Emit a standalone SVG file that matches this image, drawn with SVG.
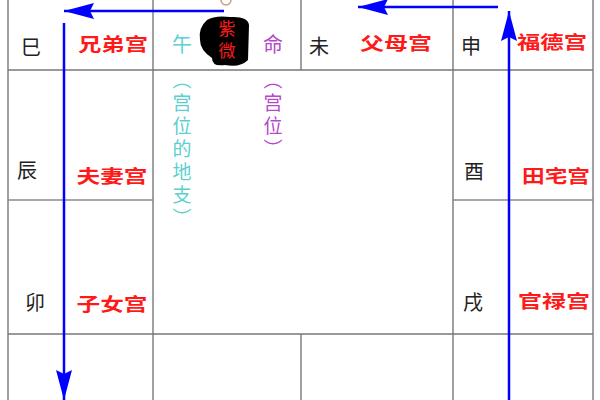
<svg xmlns="http://www.w3.org/2000/svg" width="600" height="400" viewBox="0 0 600 400">
<style>
text{dominant-baseline:central;text-anchor:middle;font-family:"Noto Sans CJK SC","Noto Sans",sans-serif}
.g{stroke:#8a8a8a;stroke-width:1.6;fill:none}
.k{font-size:20px;fill:#222}
.r{font-size:18px;fill:#ff1a1a;font-weight:bold}
.v{writing-mode:vertical-rl;text-anchor:start}
.t{font-size:19px;fill:#5ccfcf}
.p{font-size:19px;fill:#b548c8}
.b{stroke:#0000ff;stroke-width:2.5;fill:none}
</style>
<defs>
<marker id="ah2" viewBox="0 0 30 16" refX="30" refY="8" markerWidth="30" markerHeight="16" markerUnits="userSpaceOnUse" orient="auto">
<path d="M0,0 L30,8 L0,16 L4,8 z" fill="#0000ff"/>
</marker>
</defs>
<rect width="600" height="400" fill="#fff"/>
<g id="grid">
<line class="g" x1="8" y1="0" x2="8" y2="400"/>
<line class="g" x1="593" y1="0" x2="593" y2="400"/>
<line class="g" x1="153" y1="0" x2="153" y2="400"/>
<line class="g" x1="453" y1="0" x2="453" y2="400"/>
<line class="g" x1="301" y1="0" x2="301" y2="70"/>
<line class="g" x1="301" y1="334" x2="301" y2="400"/>
<line class="g" x1="8" y1="70" x2="593" y2="70" style="stroke:#777"/>
<line class="g" x1="8" y1="200" x2="153" y2="200"/>
<line class="g" x1="453" y1="200" x2="593" y2="200"/>
<line class="g" x1="8" y1="334" x2="593" y2="334" style="stroke:#777"/>
</g>
<g id="node-si"><text class="k" x="31" y="46">巳</text><text class="r" x="113" y="43" textLength="70" lengthAdjust="spacingAndGlyphs">兄弟宫</text></g>
<g id="node-wu">
<text class="t" x="182" y="43" style="font-size:20px">午</text>
<circle cx="226" cy="0" r="5" fill="none" stroke="#c8a080" stroke-width="1.5"/>
<path d="M207,20 Q215,15 230,17 Q248,16 249,25 L248,60 Q240,68 225,65 Q212,67 212,58 Q200,50 200,40 Q198,28 207,20 z" fill="#000"/>
<text class="r v" x="227" y="20" style="font-weight:normal;font-size:17px;letter-spacing:5px">紫微</text>
<text class="p" x="273" y="43" style="font-size:20px">命</text>
<text class="t v" x="182" y="70" style="letter-spacing:4px">（宫位的地支）</text>
<text class="p v" x="273" y="70" style="letter-spacing:4px">（宫位）</text>
</g>
<g id="node-wei"><text class="k" x="319" y="45">未</text><text class="r" x="396" y="42" textLength="72" lengthAdjust="spacingAndGlyphs">父母宫</text></g>
<g id="node-shen"><text class="k" x="471" y="45">申</text><text class="r" x="552" y="41" textLength="70" lengthAdjust="spacingAndGlyphs">福德宫</text></g>
<g id="node-chen"><text class="k" x="27" y="169">辰</text><text class="r" x="112" y="175" textLength="71" lengthAdjust="spacingAndGlyphs">夫妻宫</text></g>
<g id="node-you"><text class="k" x="474" y="170">酉</text><text class="r" x="556" y="175" textLength="68" lengthAdjust="spacingAndGlyphs">田宅宫</text></g>
<g id="node-mao"><text class="k" x="35" y="301">卯</text><text class="r" x="112" y="303" textLength="71" lengthAdjust="spacingAndGlyphs">子女宫</text></g>
<g id="node-xu"><text class="k" x="473" y="301">戌</text><text class="r" x="554" y="300" textLength="72" lengthAdjust="spacingAndGlyphs">官禄宫</text></g>
<g id="connectors">
<line class="b" x1="224" y1="11" x2="64" y2="11" marker-end="url(#ah2)"/>
<line class="b" x1="498" y1="7" x2="358" y2="7" marker-end="url(#ah2)"/>
<line class="b" x1="64" y1="23" x2="64" y2="400" marker-end="url(#ah2)"/>
<line class="b" x1="509" y1="400" x2="509" y2="11" marker-end="url(#ah2)"/>
</g>
</svg>
